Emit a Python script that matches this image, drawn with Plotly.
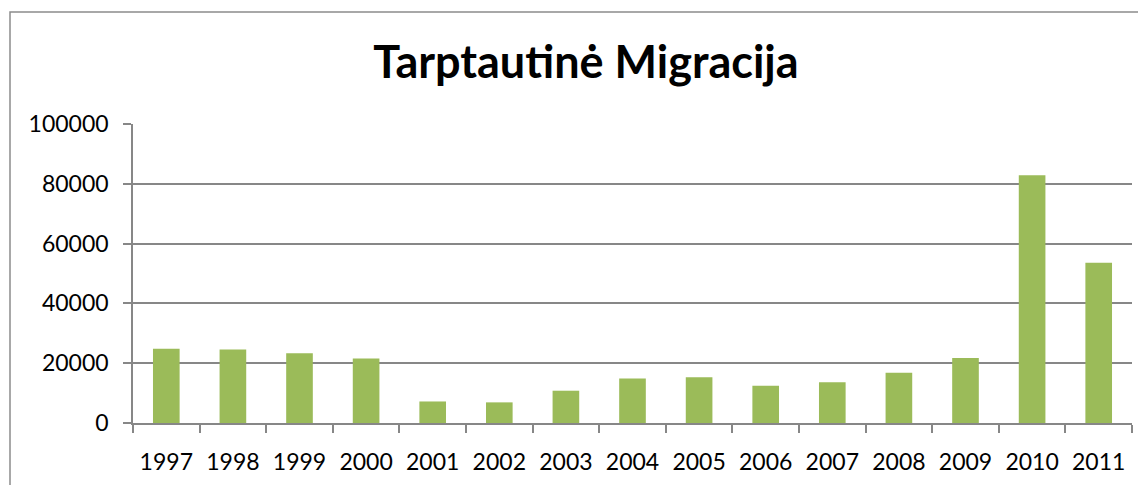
import plotly.graph_objects as go

years = ["1997", "1998", "1999", "2000", "2001", "2002", "2003", "2004",
         "2005", "2006", "2007", "2008", "2009", "2010", "2011"]
values = [24800, 24600, 23300, 21600, 7200, 6900, 10800, 14900,
          15300, 12500, 13600, 16800, 21700, 82900, 53600]
y_ticks = [0, 20000, 40000, 60000, 80000, 100000]

GREEN = "#9BBB59"
GRID = "#878787"
FONT = "Lato"

W, H = 1138, 477
ML, MR, MT, MB = 125, 14, 116, 62
PW, PH = W - ML - MR, H - MT - MB

fig = go.Figure(go.Bar(x=years, y=values, marker=dict(color=GREEN, line=dict(width=0)),
                       width=0.4))

fig.update_layout(
    width=W, height=H,
    margin=dict(l=ML, r=MR, t=MT, b=MB),
    paper_bgcolor="white", plot_bgcolor="white",
    showlegend=False,
    title=dict(text="<b>Tarptautinė Migracija</b>", x=(586 - 8) / W, xanchor="center",
               y=1 - 54 / H, yanchor="middle",
               font=dict(family=FONT, size=45, color="black")),
    font=dict(family=FONT, size=23, color="black"),
)
fig.update_xaxes(
    type="category", tickson="boundaries", ticks="outside", ticklen=8,
    tickcolor=GRID, tickwidth=1.5, showline=True, linecolor=GRID, linewidth=1.5,
    showgrid=False, tickfont=dict(family=FONT, size=23, color="black"),
    ticklabelstandoff=18, automargin=False,
)
fig.update_yaxes(
    range=[0, 100000], tickvals=y_ticks, ticktext=[str(v) for v in y_ticks],
    ticks="outside", ticklen=8, tickcolor=GRID, tickwidth=1.5,
    showline=True, linecolor=GRID, linewidth=1.5,
    showgrid=True, gridcolor=GRID, gridwidth=1.5, zeroline=False,
    tickfont=dict(family=FONT, size=23, color="black"),
    ticklabelstandoff=10, automargin=False,
)
fig.add_shape(type="rect", xref="paper", yref="paper",
              x0=-(ML - 2) / PW, x1=1.2,
              y0=-0.5, y1=1 + (MT - 4) / PH,
              line=dict(color="#8C8C8C", width=1.5), layer="above")

fig.write_html("out.html")
